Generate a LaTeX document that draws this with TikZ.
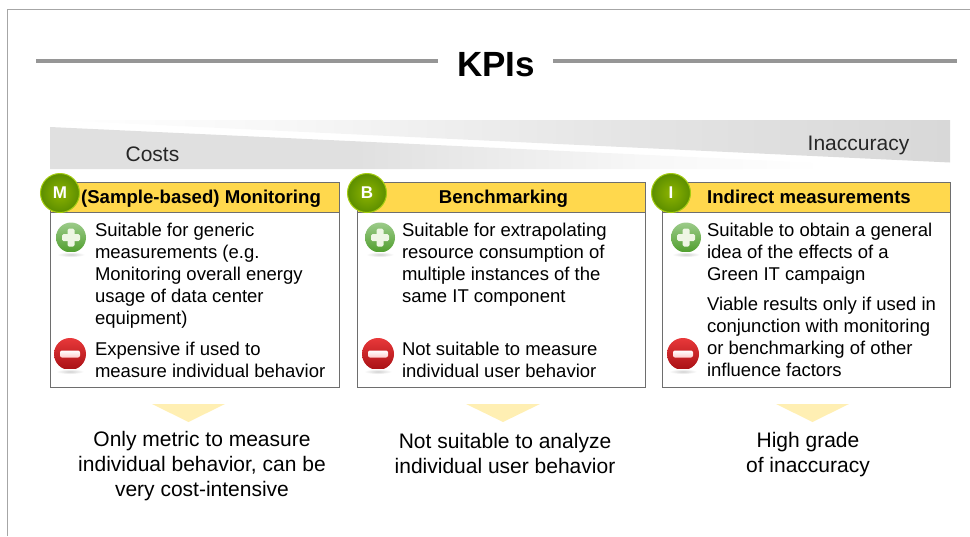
\documentclass[tikz,border=0pt]{standalone}
\usepackage{fontspec}
\setmainfont{Liberation Sans}
\usetikzlibrary{shadings}

\definecolor{rulegray}{HTML}{969696}
\definecolor{framegray}{HTML}{A6A6A6}
\definecolor{boxgray}{HTML}{6E6E6E}
\definecolor{headyellow}{HTML}{FFD84D}
\definecolor{pointyellow}{HTML}{FFEFB3}
\definecolor{wedgegray}{HTML}{D8D8D8}
\definecolor{costgray}{HTML}{E0E0E0}
\definecolor{badgerim}{HTML}{A4CC10}
\definecolor{badgein}{HTML}{8DB400}
\definecolor{badgeout}{HTML}{5C8E00}
\definecolor{plustop}{HTML}{9CCB8A}
\definecolor{plusbot}{HTML}{4F9E2C}
\definecolor{plusbar}{HTML}{EEF6E4}
\definecolor{minustop}{HTML}{E8383A}
\definecolor{minusbot}{HTML}{A81014}

\pgfdeclarehorizontalshading{costfade}{100bp}{color(0bp)=(costgray); color(25bp)=(costgray); color(42bp)=(costgray); color(58bp)=(white!75!costgray); color(68bp)=(white); color(100bp)=(white)}
\pgfdeclarehorizontalshading{inacfade}{100bp}{color(0bp)=(white); color(25bp)=(white); color(38bp)=(white!80!wedgegray); color(58bp)=(white!30!wedgegray); color(75bp)=(wedgegray); color(100bp)=(wedgegray)}

\newcommand{\plusicon}[2]{%
  \node [icongreen] (#1) at (#2) {};
  \fill [plusbar, rounded corners=1.5pt] ([xshift=-3.5pt,yshift=9pt]#1.center) rectangle ([xshift=3.5pt,yshift=-9pt]#1.center);
  \fill [plusbar, rounded corners=1.5pt] ([xshift=-9pt,yshift=3.5pt]#1.center) rectangle ([xshift=9pt,yshift=-3.5pt]#1.center);
  \shade [inner color=black!18, outer color=white] ([yshift=-17pt]#1.center) ellipse (14pt and 2.5pt);
}
\newcommand{\minusicon}[2]{%
  \node [iconred] (#1) at (#2) {};
  \shade [top color=white, bottom color=red!20!white, rounded corners=2pt] ([xshift=-10pt,yshift=3.5pt]#1.center) rectangle ([xshift=10pt,yshift=-3.5pt]#1.center);
  \shade [inner color=black!18, outer color=white] ([yshift=-17.5pt]#1.center) ellipse (14pt and 2.5pt);
}

\begin{document}
\begin{tikzpicture}[x=1pt,y=-1pt]
\tikzset{
  inner sep=0pt, outer sep=0pt,
  bodytext/.style={anchor=west, align=left, font=\fontsize{18.5}{22}\selectfont},
  sumtext/.style={align=center, font=\fontsize{21}{25}\selectfont},
  headtext/.style={anchor=base, font=\fontsize{18.6}{22}\selectfont\bfseries},
  bandtext/.style={anchor=base, font=\fontsize{21}{24}\selectfont, text=black!85},
  headbox/.style={draw=boxgray, fill=headyellow, line width=1pt},
  bodybox/.style={draw=boxgray, fill=white, line width=1pt},
  badge/.style={circle, minimum size=39pt, draw=badgerim, line width=1pt,
    inner color=badgein, outer color=badgeout,
    text=white, font=\fontsize{17}{20}\selectfont\bfseries},
  icongreen/.style={circle, minimum size=30pt, top color=plustop, bottom color=plusbot},
  iconred/.style={circle, minimum size=32pt, top color=minustop, bottom color=minusbot},
  pointer/.style={fill=pointyellow},
}
\useasboundingbox (0,0) rectangle (970,536);

% frame and title
\coordinate (FB) at (7.5,536);
\coordinate (FC) at (7.5,9);
\coordinate (FR) at (970,9);
\draw [framegray, line width=1pt] (FB) -- (FC) -- (FR);

\node [font=\fontsize{35}{40}\selectfont\bfseries] (KPI) at (496,65) {KPIs};
\coordinate (L1) at (36,61);
\coordinate (L2) at (438,61);
\coordinate (R1) at (553,61);
\coordinate (R2) at (956.5,61);
\draw [rulegray, line width=4pt] (L1) -- (L2);
\draw [rulegray, line width=4pt] (R1) -- (R2);

% wedges
\shade [shading=costfade] (50,127) -- (950,169) -- (50,169) -- cycle;
\shade [shading=inacfade] (50,120) -- (950,120) -- (950,162.5) -- cycle;
\node [bandtext] (COST) at (152.5,161) {Costs};
\node [bandtext] (INAC) at (858.5,150) {Inaccuracy};

% boxes
\draw [bodybox] (50.5,212) rectangle (339.5,387);
\draw [bodybox] (357.5,212) rectangle (645.5,387);
\draw [bodybox] (662.5,212) rectangle (950.5,387);
\draw [headbox] (50.5,182) rectangle (339.5,212);
\draw [headbox] (357.5,182) rectangle (645.5,212);
\draw [headbox] (662.5,182) rectangle (950.5,212);

\node [badge] (M) at (60,193) {M};
\node [badge] (B) at (367,193) {B};
\node [badge] (I) at (671,193) {I};

\node [headtext] (H1) at (201,203.5) {(Sample-based) Monitoring};
\node [headtext] (H2) at (503.5,203.5) {Benchmarking};
\node [headtext] (H3) at (809,203.5) {Indirect measurements};

\plusicon{P1}{71,237.5}
\plusicon{P2}{380,237.5}
\plusicon{P3}{686,237.5}
\minusicon{N1}{70,354}
\minusicon{N2}{378,354}
\minusicon{N3}{683,354}

\node [bodytext] (T1) at (95,275.5) {Suitable for generic\\measurements (e.g.\\Monitoring overall energy\\usage of data center\\equipment)};
\node [bodytext] (T2) at (95,360) {Expensive if used to\\measure individual behavior};
\node [bodytext] (T3) at (402,264.5) {Suitable for extrapolating\\resource consumption of\\multiple instances of the\\same IT component};
\node [bodytext] (T4) at (402,360) {Not suitable to measure\\individual user behavior};
\node [bodytext] (T5) at (707,253.5) {Suitable to obtain a general\\idea of the effects of a\\Green IT campaign};
\node [bodytext] (T6) at (707,337) {Viable results only if used in\\conjunction with monitoring\\or benchmarking of other\\influence factors};

% pointers
\fill [pointer] (152,404) -- (225,404) -- (188.5,422) -- cycle;
\fill [pointer] (466,404) -- (540,404) -- (503,422) -- cycle;
\fill [pointer] (776,404) -- (849,404) -- (812.5,422) -- cycle;

\node [sumtext] (S1) at (202,466) {Only metric to measure\\individual behavior, can be\\very cost-intensive};
\node [sumtext] (S2) at (505,453) {Not suitable to analyze\\individual user behavior};
\node [sumtext] (S3) at (808,454.5) {High grade\\of inaccuracy};

\end{tikzpicture}
\end{document}
